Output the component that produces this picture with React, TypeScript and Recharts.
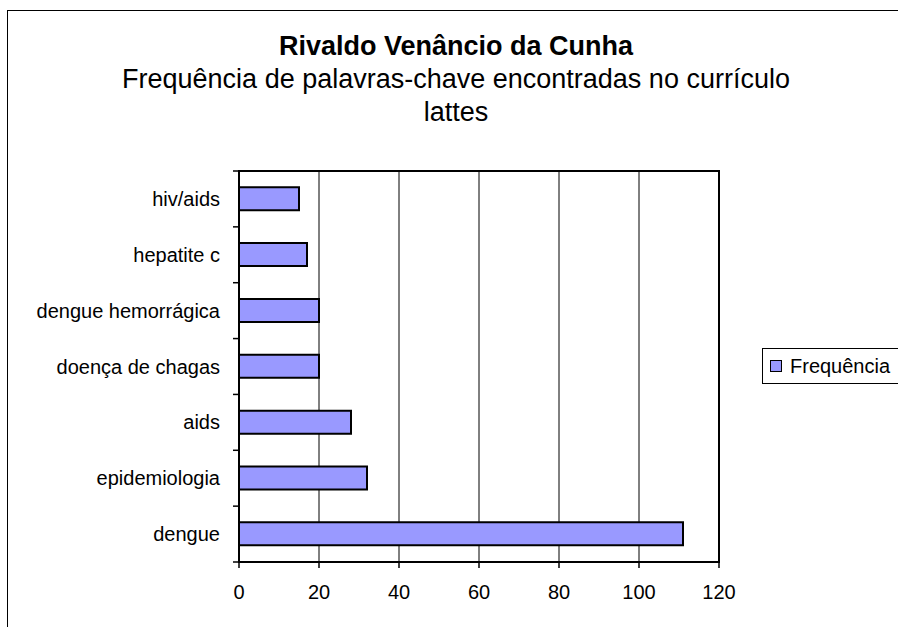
import { BarChart, Bar, XAxis, YAxis, CartesianGrid, Legend, ReferenceArea } from 'recharts'

const categories = ['dengue', 'epidemiologia', 'aids', 'doença de chagas', 'dengue hemorrágica', 'hepatite c', 'hiv/aids']
const frequencia = [111, 32, 28, 20, 20, 17, 15]
const xTicks = [0, 20, 40, 60, 80, 100, 120]

const data = categories.map((name, i) => ({ name, freq: frequencia[i] })).reverse()

const FONT = '"Liberation Sans", Arial, sans-serif'
const BAND = 391 / categories.length

function YTick(props: any) {
  const { x, y, payload, index } = props
  const axisX = x + 8
  return (
    <g>
      <text x={axisX - 19} y={y} textAnchor="end" dominantBaseline="central" fontSize={20} fill="#000" fontFamily={FONT}>
        {payload.value}
      </text>
      <line x1={axisX - 6} x2={axisX} y1={y + BAND / 2} y2={y + BAND / 2} stroke="#000" strokeWidth={1.5} />
      {index === 0 && <line x1={axisX - 6} x2={axisX} y1={y - BAND / 2} y2={y - BAND / 2} stroke="#000" strokeWidth={1.5} />}
    </g>
  )
}

function XTick(props: any) {
  const { x, y, payload } = props
  return (
    <g>
      <line x1={x} x2={x} y1={y - 8} y2={y - 2} stroke="#000" strokeWidth={1.5} />
      <text x={x} y={y + 22} textAnchor="middle" dominantBaseline="central" fontSize={20} fill="#000" fontFamily={FONT}>
        {payload.value}
      </text>
    </g>
  )
}

function LegendBox() {
  return (
    <div style={{ border: '1px solid #000', height: 36, width: 200, display: 'flex', alignItems: 'center', fontFamily: FONT, fontSize: 20, boxSizing: 'border-box' }}>
      <span style={{ display: 'inline-block', width: 10, height: 10, background: '#9999ff', border: '1.5px solid #000', marginLeft: 7, marginRight: 8 }} />
      Frequência
    </div>
  )
}

export default function App() {
  return (
    <div style={{ position: 'fixed', left: 0, top: 0, width: 898, height: 627, overflow: 'hidden', background: '#fff' }}>
      <div style={{ position: 'absolute', left: 7, top: 10, width: 1000, height: 800, border: '1px solid #000' }} />
      <div style={{ position: 'absolute', left: 0, width: 912, top: 30, textAlign: 'center', fontFamily: FONT, fontSize: 27, lineHeight: '33px', color: '#000' }}>
        <div style={{ fontWeight: 'bold' }}>Rivaldo Venâncio da Cunha</div>
        <div>Frequência de palavras-chave encontradas no currículo</div>
        <div>lattes</div>
      </div>
      <div style={{ position: 'absolute', left: 0, top: 0 }}>
        <BarChart width={898} height={627} data={data} layout="vertical" barCategoryGap="29%" margin={{ top: 171, right: 179, bottom: 25, left: 0 }}>
          <CartesianGrid horizontal={false} stroke="#000" strokeWidth={1} />
          <XAxis type="number" domain={[0, 120]} ticks={xTicks} height={40} axisLine={false} tickLine={false} tick={<XTick />} interval={0} />
          <YAxis type="category" dataKey="name" width={239} axisLine={false} tickLine={false} tick={<YTick />} interval={0} />
          <ReferenceArea x1={0} x2={120} fill="none" stroke="#000" strokeWidth={2} ifOverflow="visible" />
          <Legend layout="horizontal" verticalAlign="middle" align="center" content={<LegendBox />} wrapperStyle={{ left: 762, top: 348, width: 200, height: 38 }} />
          <Bar dataKey="freq" name="Frequência" fill="#9999ff" stroke="#000" strokeWidth={2} isAnimationActive={false} />
        </BarChart>
      </div>
    </div>
  )
}
